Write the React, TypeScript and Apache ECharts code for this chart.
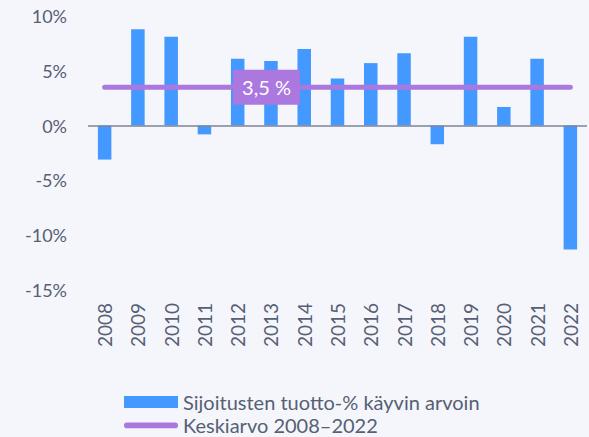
import React, { useEffect, useRef } from "react";
import * as echarts from "echarts";

const years = ["2008","2009","2010","2011","2012","2013","2014","2015","2016","2017","2018","2019","2020","2021","2022"];
const returns = [-3.1, 8.8, 8.1, -0.8, 6.1, 5.9, 7.0, 4.3, 5.7, 6.6, -1.7, 8.1, 1.7, 6.1, -11.3];
const average = 3.5;
const averageLabel = "3,5 %";
const yTicks = { min: -15, max: 10, interval: 5 };
const barName = "Sijoitusten tuotto-% käyvin arvoin";
const lineName = "Keskiarvo 2008–2022";
const labelIndex = 5;

const TEXT = "#566074";
const BLUE = "#4399ff";
const PURPLE = "#aa78de";
const FONT = "Lato, 'Open Sans', sans-serif";

export default function App() {
  const ref = useRef<HTMLDivElement>(null);
  useEffect(() => {
    const chart = echarts.init(ref.current!, null, { renderer: "svg" });
    chart.setOption({
      animation: false,
      backgroundColor: "#f5f6fb",
      textStyle: { fontFamily: FONT },
      grid: { left: 88, right: 2, top: 16, bottom: 147 },
      legend: {
        orient: "vertical",
        left: 124,
        top: 391,
        height: 80,
        padding: 0,
        itemGap: 1.4,
        itemWidth: 54,
        itemHeight: 12,
        textStyle: { color: TEXT, fontSize: 20, lineHeight: 22, fontFamily: FONT },
        data: [
          { name: barName, icon: "rect" },
          {
            name: lineName,
            icon: "path://M2.8,0 H51.2 A2.8,2.8 0 0 1 51.2,5.6 H2.8 A2.8,2.8 0 0 1 2.8,0 Z",
          },
        ],
      },
      xAxis: {
        type: "category",
        data: years,
        axisLine: { show: false, onZero: false },
        axisTick: { show: false },
        axisLabel: { rotate: 90, color: TEXT, fontSize: 19, margin: 13, fontFamily: FONT },
      },
      yAxis: {
        type: "value",
        min: yTicks.min,
        max: yTicks.max,
        interval: yTicks.interval,
        splitLine: { show: false },
        axisLine: { show: false },
        axisLabel: { color: TEXT, fontSize: 18, margin: 21, formatter: "{value}%", fontFamily: FONT },
      },
      series: [
        {
          name: barName,
          type: "bar",
          data: returns,
          barWidth: 13.5,
          itemStyle: { color: BLUE },
          markLine: {
            silent: true,
            symbol: "none",
            label: { show: false },
            lineStyle: { color: "#7d8599", width: 1.5, type: "solid" },
            data: [{ yAxis: 0 }],
          },
        },
        {
          name: lineName,
          type: "line",
          symbol: "none",
          data: years.map(() => average),
          lineStyle: { color: PURPLE, width: 5, cap: "round" },
          itemStyle: { color: PURPLE },
          z: 3,
          markPoint: {
            silent: true,
            symbol: "rect",
            symbolSize: [67, 35],
            symbolOffset: [-4.5, 0],
            itemStyle: { color: PURPLE },
            label: {
              show: true,
              position: "inside",
              formatter: averageLabel,
              color: "#ffffff",
              fontSize: 20,
              fontFamily: FONT,
            },
            data: [{ coord: [labelIndex, average] }],
          },
        },
      ],
    });
    return () => chart.dispose();
  }, []);
  return <div ref={ref} style={{ width: 589, height: 437, position: "absolute", left: 0, top: 0 }} />;
}
